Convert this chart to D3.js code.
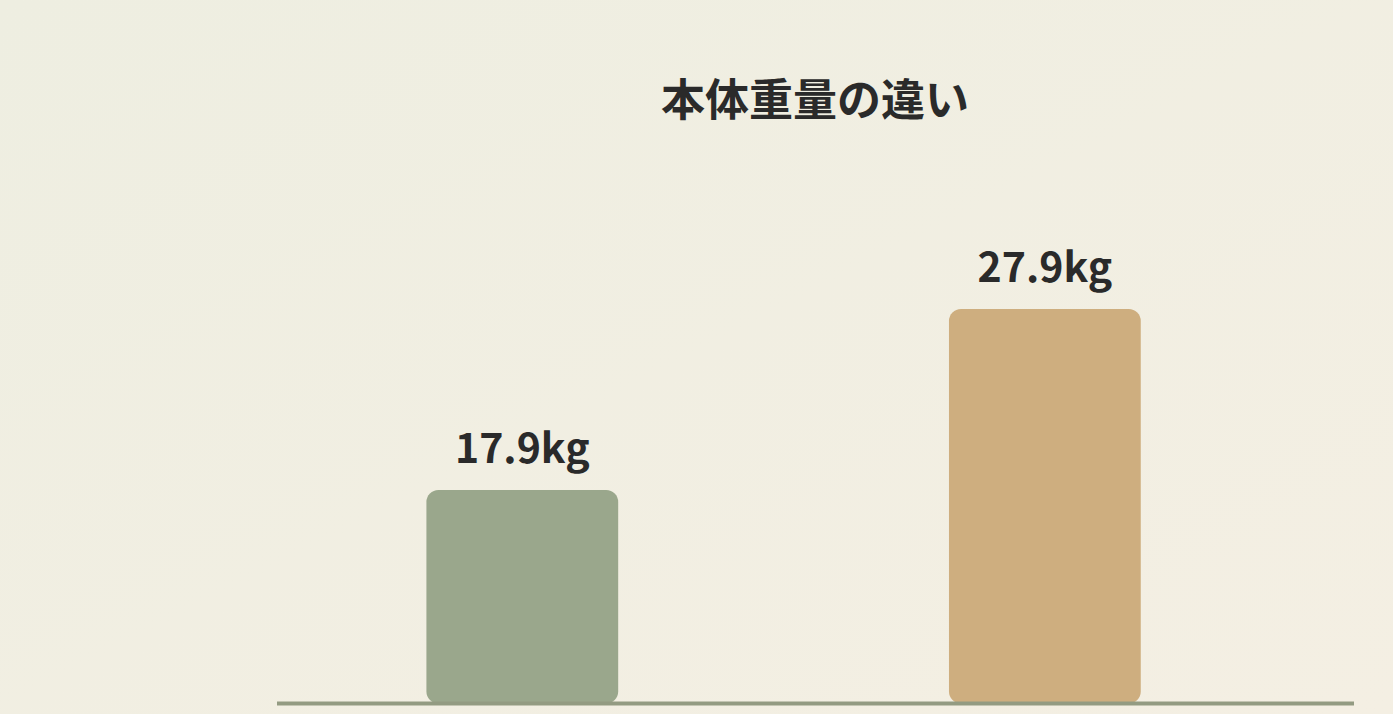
<!DOCTYPE html>
<html>
<head>
<meta charset="utf-8">
<script src="https://cdn.jsdelivr.net/npm/d3@7"></script>
<style>
  html, body { margin: 0; padding: 0; overflow: hidden; }
  svg { display: block; }
</style>
</head>
<body>
<svg id="chart" width="1393" height="714"></svg>
<script>
const title = "本体重量の違い";
const categories = ["A", "B"];
const weights = [17.9, 27.9];
const unit = "kg";
const barColors = ["#9aa78c", "#ceae7f"];

const width = 1393, height = 714;
const baseY = 703.5;
const font = "'Noto Sans CJK JP', 'Noto Sans', sans-serif";

const svg = d3.select("#chart");

// soft background gradient
const defs = svg.append("defs");
const grad = defs.append("linearGradient")
  .attr("id", "bg")
  .attr("x1", "0%").attr("y1", "0%")
  .attr("x2", "100%").attr("y2", "100%");
grad.append("stop").attr("offset", "0%").attr("stop-color", "#eeeee1");
grad.append("stop").attr("offset", "100%").attr("stop-color", "#f4efe3");

svg.append("rect")
  .attr("width", width)
  .attr("height", height)
  .attr("fill", "url(#bg)");

const x = d3.scaleBand()
  .domain(categories)
  .range([277, 1354])
  .paddingInner(0.633)
  .paddingOuter(0.347)
  .align(0.412);

const y = d3.scaleLinear()
  .domain([6.1, 27.9])
  .range([baseY, 309]);

svg.append("text")
  .attr("x", 815)
  .attr("y", 116)
  .attr("text-anchor", "middle")
  .style("font-family", font)
  .style("font-weight", 700)
  .style("font-size", "44px")
  .style("fill", "#2a2a2a")
  .text(title);

const bars = svg.append("g")
  .selectAll("g.bar")
  .data(weights)
  .enter()
  .append("g")
  .attr("class", "bar");

bars.append("rect")
  .attr("x", (d, i) => x(categories[i]))
  .attr("y", d => y(d))
  .attr("width", x.bandwidth())
  .attr("height", d => baseY - y(d))
  .attr("rx", 12)
  .attr("fill", (d, i) => barColors[i]);

bars.append("text")
  .attr("x", (d, i) => x(categories[i]) + x.bandwidth() / 2)
  .attr("y", d => y(d) - 27)
  .attr("text-anchor", "middle")
  .style("font-family", font)
  .style("font-weight", 700)
  .style("font-size", "41px")
  .style("fill", "#2a2a2a")
  .text(d => d3.format(".1f")(d) + unit);

// base line
svg.append("line")
  .attr("x1", 277)
  .attr("x2", 1354)
  .attr("y1", baseY)
  .attr("y2", baseY)
  .attr("stroke", "#939b82")
  .attr("stroke-width", 4);
</script>
</body>
</html>
